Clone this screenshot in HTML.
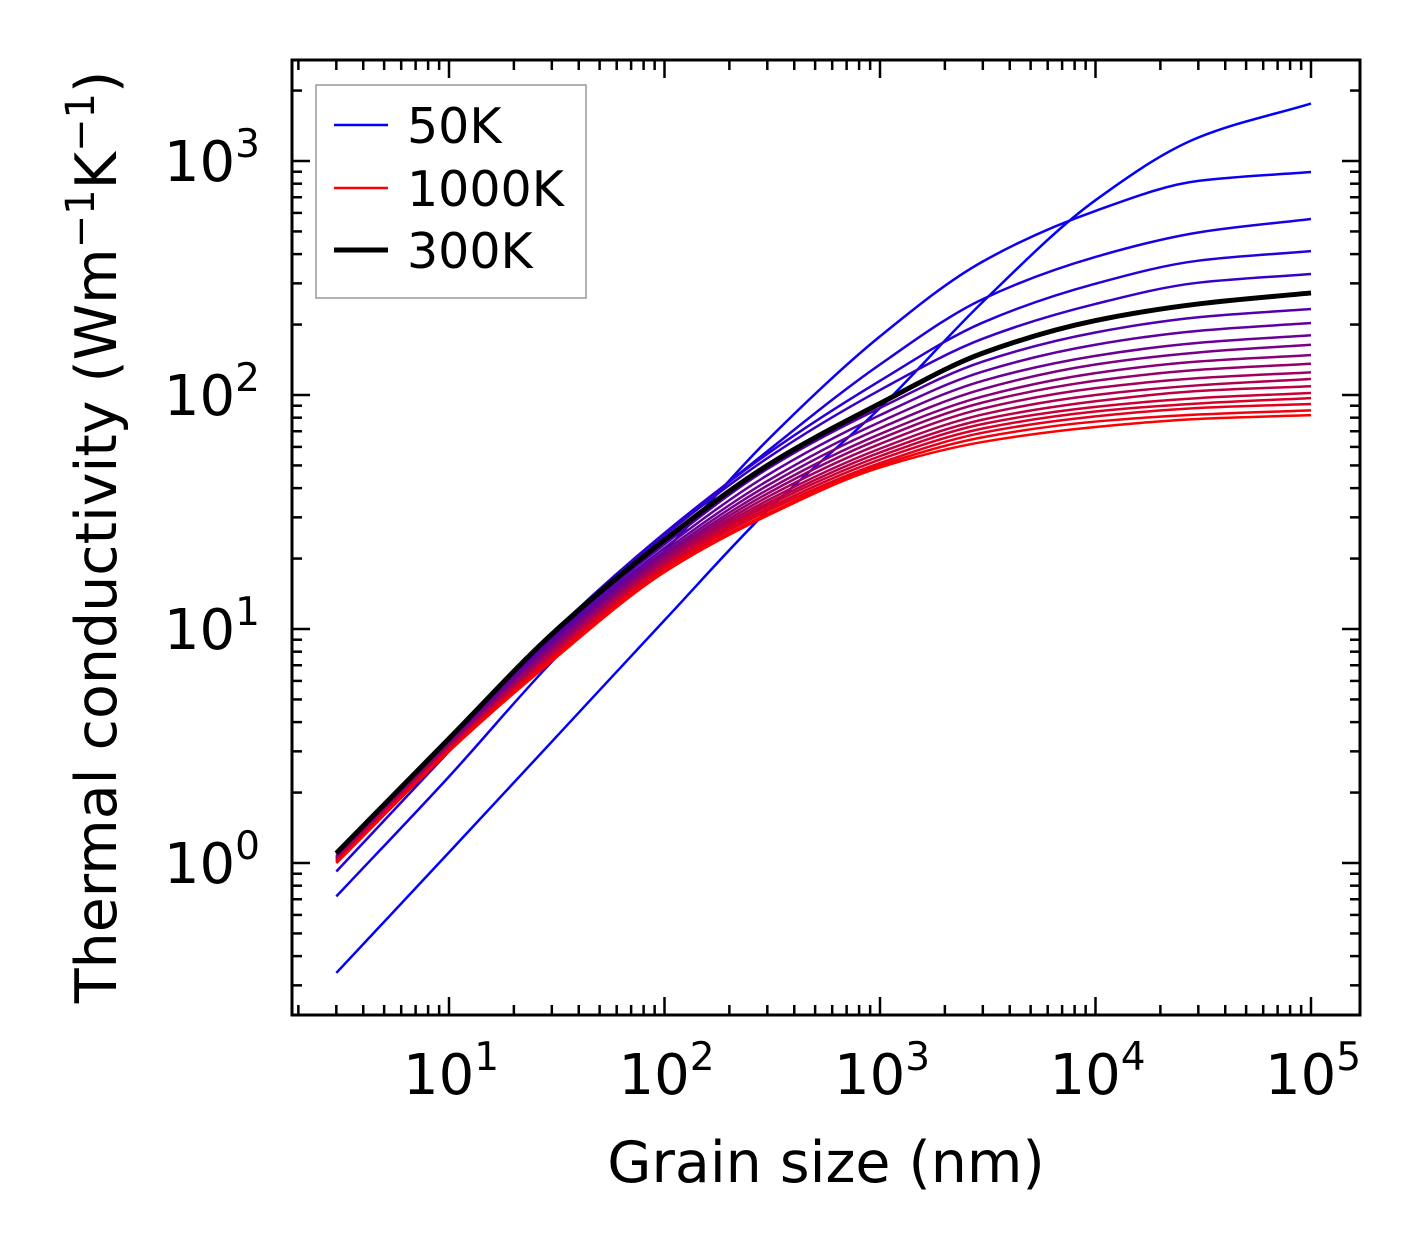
<!DOCTYPE html>
<html><head><meta charset="utf-8"><style>
html,body{margin:0;padding:0;background:#fff;}
svg{display:block;font-family:"DejaVu Sans","Liberation Sans",sans-serif;}
</style></head><body>
<svg id="chart" width="1421" height="1254" viewBox="0 0 1421 1254" xmlns="http://www.w3.org/2000/svg">
<rect x="0" y="0" width="1421" height="1254" fill="#fff"/>
<g id="curves"></g>
<g id="ticks"></g>
<rect x="292" y="60" width="1068" height="955" fill="none" stroke="#000" stroke-width="3"/>
<g id="labels"></g>
<text x="826" y="1182" font-size="57" text-anchor="middle">Grain size (nm)</text>
<text transform="translate(116,537) rotate(-90)" font-size="57" text-anchor="middle">Thermal conductivity (Wm<tspan dy="-22" font-size="40">−1</tspan><tspan dy="22">K</tspan><tspan dy="-22" font-size="40">−1</tspan><tspan dy="22">)</tspan></text>
<g>
<rect x="316" y="85" width="270" height="213" fill="#fff" stroke="#999" stroke-width="1.5"/>
<line x1="334" y1="125" x2="388" y2="125" stroke="#0000ff" stroke-width="2.5"/>
<text x="407" y="143" font-size="49">50K</text>
<line x1="334" y1="188" x2="388" y2="188" stroke="#ff0000" stroke-width="2.5"/>
<text x="407" y="206" font-size="49">1000K</text>
<line x1="334" y1="250" x2="388" y2="250" stroke="#000" stroke-width="5"/>
<text x="407" y="268" font-size="49">300K</text>
</g>
</svg>
<script>
const grainSizes = [3, 10, 30, 100, 300, 1000, 3000, 10000, 30000, 100000];
const k50 = [0.339, 1.11, 3.3, 10.9, 32, 88, 250, 680, 1260, 1760];
const k100 = [0.72, 2.34, 7.24, 21.5, 64, 178, 372, 612, 822, 897];
const k150 = [0.92, 3.0, 8.9, 25.1, 57.5, 135, 257, 389, 495, 565];
const k200 = [1.03, 3.31, 9.55, 25.7, 56, 115, 204, 299, 375, 412];
const k250 = [1.06, 3.39, 9.55, 25.1, 53.7, 105, 174, 245, 302, 329];
const k300 = [1.1, 3.4, 9.5, 24, 50, 92, 151, 208, 245, 273];
const k350 = [1.09, 3.34, 9.18, 23.0, 48.3, 88, 139, 185, 215, 233];
const k400 = [1.07, 3.30, 8.91, 22.2, 45.4, 82, 126, 164, 188, 203];
const k450 = [1.06, 3.25, 8.67, 21.5, 42.9, 76.7, 115, 147, 167, 180];
const k500 = [1.05, 3.22, 8.47, 20.9, 41.0, 72.1, 106, 135, 152, 164];
const k550 = [1.05, 3.18, 8.30, 20.4, 39.3, 68.1, 98.6, 124, 139, 148];
const k600 = [1.04, 3.16, 8.17, 20.0, 37.9, 64.9, 92.9, 115, 128, 136];
const k650 = [1.04, 3.14, 8.04, 19.6, 36.6, 61.8, 87.5, 107, 118, 125];
const k700 = [1.03, 3.11, 7.91, 19.3, 35.4, 59.0, 82.6, 100, 110, 117];
const k750 = [1.02, 3.10, 7.80, 18.9, 34.4, 56.8, 78.5, 94, 104, 109];
const k800 = [1.02, 3.08, 7.71, 18.7, 33.6, 54.8, 75.2, 89, 97, 102];
const k850 = [1.01, 3.05, 7.60, 18.4, 32.7, 53.0, 71.9, 85, 92, 97];
const k900 = [1.01, 3.04, 7.52, 18.1, 31.9, 51.2, 69.0, 81, 88, 91.5];
const k950 = [1.0, 3.01, 7.36, 17.7, 31.0, 50.0, 66.0, 77, 82.5, 86];
const k1000 = [1.0, 3.0, 7.3, 17.5, 30.5, 49, 63, 73, 79, 82];
const coloredSeries = [k50,k100,k150,k200,k250,k300,k350,k400,k450,k500,k550,k600,k650,k700,k750,k800,k850,k900,k950,k1000];
const temperatures = [50,100,150,200,250,300,350,400,450,500,550,600,650,700,750,800,850,900,950,1000];
const xTickLabels = ["1","2","3","4","5"];
const yTickLabels = ["0","1","2","3"];

const NS = "http://www.w3.org/2000/svg";
const X0 = 449, XD = 215.5, Y0 = 863, YD = 234;
function xPos(v){ return X0 + (Math.log10(v) - 1) * XD; }
function yPos(v){ return Y0 - Math.log10(v) * YD; }
const LX0 = 0.271, LX1 = 5.227, LY0 = -0.65, LY1 = 3.436;

function pathFor(vals){
  const P = grainSizes.map((g,i)=>[xPos(g), yPos(vals[i])]);
  const n = P.length;
  const sec = [];
  for (let i=0;i<n-1;i++) sec.push((P[i+1][1]-P[i][1])/(P[i+1][0]-P[i][0]));
  const m = [];
  for (let i=0;i<n;i++){
    if (i===0) m.push(sec[0]);
    else if (i===n-1) m.push(sec[n-2]);
    else {
      const a = sec[i-1], b = sec[i];
      if (a*b <= 0) m.push(0);
      else {
        const h0 = P[i][0]-P[i-1][0], h1 = P[i+1][0]-P[i][0];
        const w1 = 2*h1+h0, w2 = h1+2*h0;
        m.push((w1+w2)/(w1/a + w2/b));
      }
    }
  }
  let d = "M" + P[0][0].toFixed(2) + "," + P[0][1].toFixed(2);
  for (let i=0;i<n-1;i++){
    const h = (P[i+1][0]-P[i][0])/3;
    d += " C"+(P[i][0]+h).toFixed(2)+","+(P[i][1]+m[i]*h).toFixed(2)+" "+(P[i+1][0]-h).toFixed(2)+","+(P[i+1][1]-m[i+1]*h).toFixed(2)+" "+P[i+1][0].toFixed(2)+","+P[i+1][1].toFixed(2);
  }
  return d;
}
const curves = document.getElementById("curves");
coloredSeries.forEach((vals,i)=>{
  const t = i/(coloredSeries.length-1);
  const p = document.createElementNS(NS,"path");
  p.setAttribute("d", pathFor(vals));
  p.setAttribute("fill","none");
  p.setAttribute("stroke","rgb("+Math.round(255*t)+",0,"+Math.round(255*(1-t))+")");
  p.setAttribute("stroke-width","2.5");
  
  
  curves.appendChild(p);
});
const bp = document.createElementNS(NS,"path");
bp.setAttribute("d", pathFor(k300));
bp.setAttribute("fill","none");
bp.setAttribute("stroke","#000");
bp.setAttribute("stroke-width","5");


curves.appendChild(bp);

const ticks = document.getElementById("ticks");
function tick(x1,y1,x2,y2,name){
  const l = document.createElementNS(NS,"line");
  l.setAttribute("x1",x1);l.setAttribute("y1",y1);l.setAttribute("x2",x2);l.setAttribute("y2",y2);
  l.setAttribute("stroke","#000");l.setAttribute("stroke-width","2.5");
  
  
  ticks.appendChild(l);
}
for (let d=0; d<=5; d++){
  for (let m=1; m<=9; m++){
    const lv = d + Math.log10(m);
    if (lv < LX0 || lv > LX1) continue;
    const x = X0 + (lv-1)*XD, len = m===1?18:10;
    tick(x,1015,x,1015-len,'x-tick');
    tick(x,60,x,60+len,'x-tick-top');
  }
}
for (let d=-1; d<=3; d++){
  for (let m=1; m<=9; m++){
    const lv = d + Math.log10(m);
    if (lv < LY0 || lv > LY1) continue;
    const y = Y0 - lv*YD, len = m===1?18:10;
    tick(292,y,292+len,y,'y-tick');
    tick(1360,y,1360-len,y,'y-tick-right');
  }
}
const labels = document.getElementById("labels");
xTickLabels.forEach(e=>{
  const t = document.createElementNS(NS,"text");
  const x = xPos(Math.pow(10, +e));
  t.setAttribute("x", x+2); t.setAttribute("y", 1094);
  t.setAttribute("font-size","56"); t.setAttribute("text-anchor","middle");
  t.innerHTML = '10<tspan dy="-24" font-size="39">'+e+'</tspan>';
  
  
  labels.appendChild(t);
});
yTickLabels.forEach(e=>{
  const t = document.createElementNS(NS,"text");
  const y = yPos(Math.pow(10, +e));
  t.setAttribute("x", 260); t.setAttribute("y", y+20);
  t.setAttribute("font-size","56"); t.setAttribute("text-anchor","end");
  t.innerHTML = '10<tspan dy="-24" font-size="39">'+e+'</tspan>';
  
  
  labels.appendChild(t);
});
</script>
</body></html>
